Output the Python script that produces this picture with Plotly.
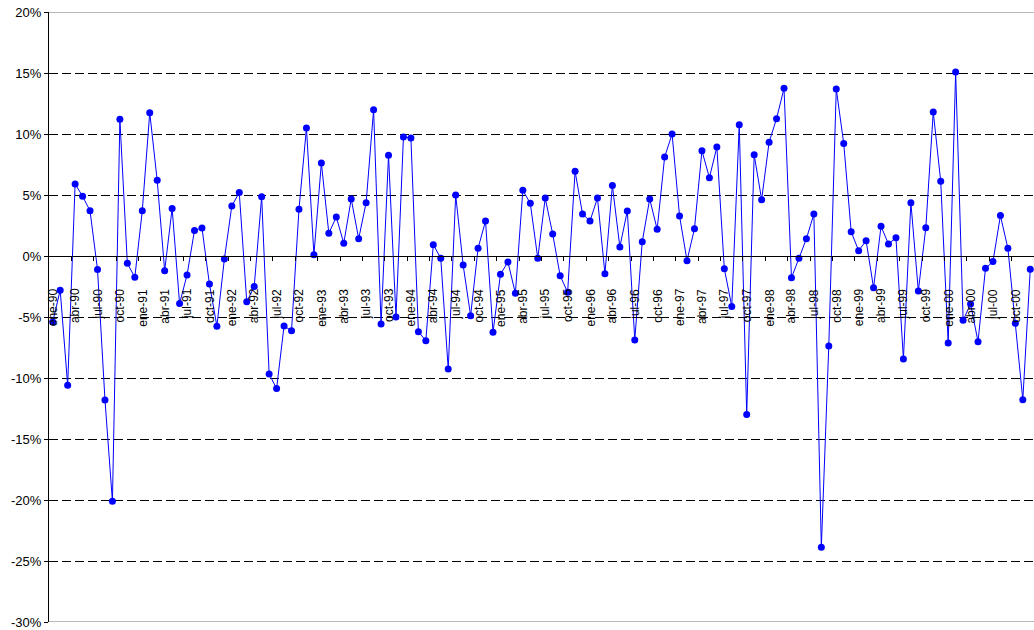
import plotly.graph_objects as go

# ---- data -------------------------------------------------------------
month_abbr = ["ene", "feb", "mar", "abr", "may", "jun",
              "jul", "ago", "sep", "oct", "nov", "dic"]
years = ["90", "91", "92", "93", "94", "95", "96", "97", "98", "99", "00"]
months = [f"{m}-{y}" for y in years for m in month_abbr]

# monthly returns (%)
returns = [
    -5.4, -2.8, -10.6, 5.9, 4.9, 3.7, -1.1, -11.8, -20.1, 11.2, -0.6, -1.75,      # 1990
    3.7, 11.75, 6.2, -1.2, 3.9, -3.9, -1.55, 2.1, 2.3, -2.3, -5.75, -0.25,        # 1991
    4.1, 5.2, -3.75, -2.5, 4.86, -9.67, -10.87, -5.74, -6.12, 3.83, 10.49, 0.11,  # 1992
    7.62, 1.86, 3.2, 1.04, 4.67, 1.42, 4.37, 11.99, -5.57, 8.25, -5.0, 9.75,      # 1993
    9.67, -6.2, -6.94, 0.93, -0.19, -9.26, 5.0, -0.74, -4.89, 0.63, 2.87, -6.25,  # 1994
    -1.5, -0.49, -3.06, 5.38, 4.32, -0.19, 4.75, 1.8, -1.61, -2.98, 6.94, 3.44,   # 1995
    2.87, 4.75, -1.45, 5.77, 0.74, 3.69, -6.89, 1.17, 4.67, 2.19, 8.11, 10.0,     # 1996
    3.28, -0.38, 2.24, 8.63, 6.42, 8.93, -1.04, -4.13, 10.76, -13.0, 8.3, 4.62,   # 1997
    9.32, 11.26, 13.74, -1.78, -0.19, 1.42, 3.44, -23.88, -7.38, 13.69, 9.23, 1.99,  # 1998
    0.43, 1.26, -2.6, 2.43, 0.98, 1.5, -8.44, 4.37, -2.87, 2.32, 11.8, 6.12,      # 1999
    -7.13, 15.08, -5.27, -3.93, -7.02, -1.01, -0.46, 3.31, 0.63, -5.52, -11.78, -1.09,  # 2000
]

y_ticks = [-30, -25, -20, -15, -10, -5, 0, 5, 10, 15, 20]
y_ticktext = [f"{v}%" for v in y_ticks]

idx = list(range(len(months)))
label_idx = idx[::3]
label_text = months[::3]
boundary_ticks = [i + 2.5 for i in label_idx]

FONT = "Arial, Liberation Sans, sans-serif"
Y_MIN, Y_MAX = -30, 20
X_RANGE = [-0.5, len(months) - 0.5]
zero_pos = (0 - Y_MIN) / (Y_MAX - Y_MIN)
LABEL_TOP = -2.5   # y level (in axis units) where the rotated month labels start

fig = go.Figure()
fig.add_trace(go.Scatter(
    x=idx, y=returns, mode="lines+markers",
    line=dict(color="#0000FF", width=1),
    marker=dict(color="#0000FF", size=7),
    hovertext=months, showlegend=False,
))

# month labels, rotated, hanging below the zero axis (Excel style)
annotations = [
    dict(x=i, y=LABEL_TOP, xref="x", yref="y", text=t, showarrow=False,
         textangle=-90, xanchor="center", yanchor="top",
         font=dict(size=12, family=FONT, color="black"))
    for i, t in zip(label_idx, label_text)
]

fig.update_layout(
    width=1034, height=630,
    margin=dict(l=49, r=0, t=12, b=8),
    paper_bgcolor="white", plot_bgcolor="white",
    font=dict(family=FONT, color="black"),
    xaxis=dict(
        type="linear", range=X_RANGE, automargin=False,
        anchor="free", position=zero_pos,
        showline=True, linecolor="black", linewidth=1,
        showgrid=False, zeroline=False,
        tickmode="array", tickvals=boundary_ticks, showticklabels=False,
        ticks="outside", ticklen=4, tickcolor="black", tickwidth=1,
    ),
    yaxis=dict(
        range=[Y_MIN, Y_MAX], automargin=False,
        tickmode="array", tickvals=y_ticks, ticktext=y_ticktext,
        tickfont=dict(size=13, family=FONT, color="black"),
        ticklabeloverflow="allow",
        showline=True, linecolor="black", linewidth=1,
        ticks="outside", ticklen=4, tickcolor="black",
        showgrid=True, gridcolor="black", gridwidth=1, griddash="9px,4px",
        zeroline=False,
    ),
    annotations=annotations,
    shapes=[
        dict(type="line", xref="paper", x0=0, x1=1, yref="y", y0=Y_MAX, y1=Y_MAX,
             line=dict(color="#a0a0a0", width=1.5), layer="above"),
        dict(type="line", xref="paper", x0=0, x1=1, yref="y", y0=Y_MIN, y1=Y_MIN,
             line=dict(color="#a0a0a0", width=1.5), layer="above"),
    ],
)

fig.write_html(
    "out.html",
    config={"displayModeBar": False},
    post_script="document.body.style.margin='0px';document.body.style.overflow='hidden';",
)
